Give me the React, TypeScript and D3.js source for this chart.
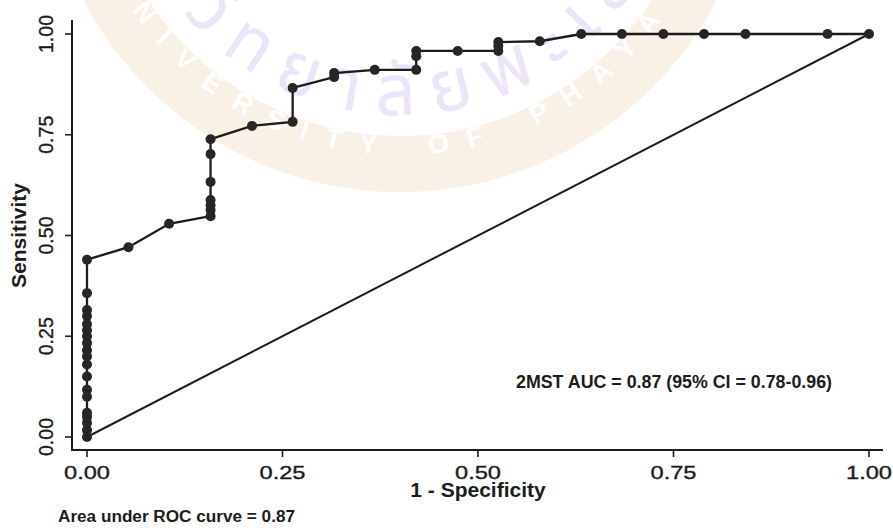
import React from 'react';
import * as d3 from 'd3';

// ROC points (1 - specificity, sensitivity)
const fpr = [
  0, 0, 0, 0, 0, 0, 0, 0, 0, 0, 0, 0, 0, 0, 0, 0, 0, 0, 0,
  0.053, 0.105, 0.158, 0.158, 0.158, 0.158, 0.158, 0.158, 0.158,
  0.211, 0.263, 0.263, 0.316, 0.316, 0.368, 0.421, 0.421, 0.421,
  0.474, 0.526, 0.526, 0.526, 0.579, 0.632, 0.684, 0.737, 0.789,
  0.842, 0.947, 1,
];
const sens = [
  0, 0.017, 0.035, 0.05, 0.06, 0.1, 0.117, 0.15, 0.18, 0.2, 0.215, 0.233,
  0.25, 0.265, 0.28, 0.3, 0.315, 0.357, 0.44,
  0.471, 0.529, 0.548, 0.563, 0.575, 0.588, 0.633, 0.702, 0.739,
  0.772, 0.782, 0.866, 0.893, 0.903, 0.911, 0.911, 0.945, 0.958,
  0.958, 0.958, 0.97, 0.98, 0.982, 1, 1, 1, 1,
  1, 1, 1,
];
const ticks = [0, 0.25, 0.5, 0.75, 1];
const tickLabels = ['0.00', '0.25', '0.50', '0.75', '1.00'];

const xTitle = '1 - Specificity';
const yTitle = 'Sensitivity';
const aucNote = '2MST AUC = 0.87 (95% CI = 0.78-0.96)';
const footNote = 'Area under ROC curve = 0.87';

const W = 893;
const H = 528;
const font = '"Liberation Sans", Arial, Helvetica, sans-serif';
const ink = '#1c1c1c';

export default function App() {
  const x = d3.scaleLinear().domain([0, 1]).range([87, 869]);
  const y = d3.scaleLinear().domain([0, 1]).range([437, 34]);

  const pts = fpr.map((f, i) => [f, sens[i]] as [number, number]);
  const line = d3.line<[number, number]>().x((d) => x(d[0])).y((d) => y(d[1]));

  // watermark geometry (scanned university seal behind the plot)
  const cx = 400, cy = -165;
  const arc = (r: number) => `M${cx - r},${cy} A${r},${r} 0 0 0 ${cx + r},${cy}`;

  return (
    <div style={{ position: 'absolute', left: 0, top: 0 }}>
      <svg width={W} height={H} style={{ display: 'block', background: '#fff' }}>
        <defs>
          <path id="ringPath" d={arc(320)} />
          <path id="thaiPath" d={arc(280)} />
        </defs>

        {/* watermark */}
        <g>
          <circle cx={cx} cy={cy} r={329} fill="none" stroke="#f9f0e6" strokeWidth={56} />
          <text fontFamily={font} fontWeight="bold" fontSize={27} fill="#ffffff" letterSpacing={19} wordSpacing={8}>
            <textPath href="#ringPath" startOffset={146}>UNIVERSITY OF PHAYAO</textPath>
          </text>
          <text fontFamily='"Noto Sans Thai", "Noto Sans", "DejaVu Sans", sans-serif' fontSize={72} fill="#ece4f9" letterSpacing={18}>
            <textPath href="#thaiPath" startOffset={22}>มหาวิทยาลัยพะเยา</textPath>
          </text>
        </g>

        {/* axes */}
        <line x1={72} x2={72} y1={20} y2={451} stroke={ink} strokeWidth={2} />
        <line x1={71} x2={883} y1={450} y2={450} stroke={ink} strokeWidth={2} />
        {ticks.map((t, i) => (
          <g key={'y' + i}>
            <line x1={65} x2={72} y1={y(t)} y2={y(t)} stroke={ink} strokeWidth={1.6} />
            <text
              transform={`translate(53,${y(t)}) rotate(-90)`}
              textAnchor="middle"
              fontFamily={font}
              fontSize={20}
              textLength={38}
              lengthAdjust="spacingAndGlyphs"
              fill={ink}
              stroke={ink}
              strokeWidth={0.35}
            >
              {tickLabels[i]}
            </text>
          </g>
        ))}
        {ticks.map((t, i) => (
          <g key={'x' + i}>
            <line x1={x(t)} x2={x(t)} y1={450} y2={457} stroke={ink} strokeWidth={1.6} />
            <text
              x={x(t)}
              y={479}
              textAnchor="middle"
              fontFamily={font}
              fontSize={19}
              textLength={46}
              lengthAdjust="spacingAndGlyphs"
              fill={ink}
              stroke={ink}
              strokeWidth={0.35}
            >
              {tickLabels[i]}
            </text>
          </g>
        ))}

        {/* titles */}
        <text x={x(0.5)} y={497} textAnchor="middle" fontFamily={font} fontWeight="bold" fontSize={21} fill={ink}>
          {xTitle}
        </text>
        <text
          transform={`translate(26,${y(0.5)}) rotate(-90)`}
          textAnchor="middle"
          fontFamily={font}
          fontWeight="bold"
          fontSize={21}
          fill={ink}
        >
          {yTitle}
        </text>

        {/* reference diagonal */}
        <line x1={x(0)} y1={y(0)} x2={x(1)} y2={y(1)} stroke={ink} strokeWidth={2} />

        {/* ROC curve */}
        <path d={line(pts) ?? ''} fill="none" stroke={ink} strokeWidth={2.3} />
        {pts.map((d, i) => (
          <circle key={i} cx={x(d[0])} cy={y(d[1])} r={5} fill="#262626" />
        ))}

        {/* notes */}
        <text x={516} y={388} fontFamily={font} fontWeight="bold" fontSize={17.5} fill={ink} textLength={316} lengthAdjust="spacingAndGlyphs">
          {aucNote}
        </text>
        <text x={58} y={522} fontFamily={font} fontWeight="bold" fontSize={16} fill={ink} textLength={237} lengthAdjust="spacingAndGlyphs">
          {footNote}
        </text>
      </svg>
    </div>
  );
}
